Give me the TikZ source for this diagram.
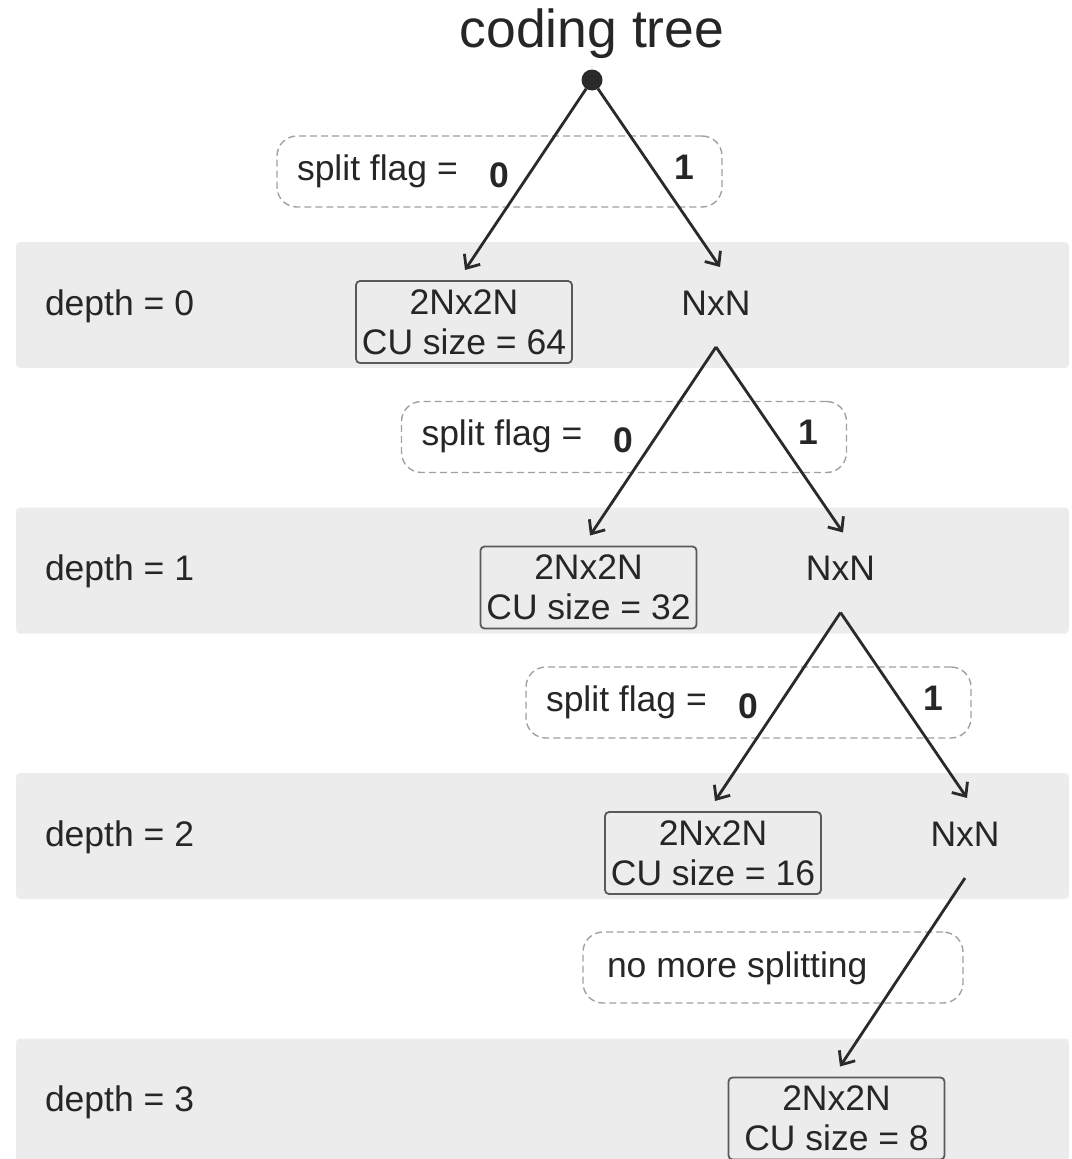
\documentclass[tikz,border=0pt]{standalone}
\usepackage{fontspec}
\setmainfont{Liberation Sans}
\usetikzlibrary{arrows.meta}
\definecolor{ink}{HTML}{262626}
\definecolor{edge}{HTML}{2A2A2A}
\definecolor{band}{HTML}{EBECEB}
\definecolor{boxline}{HTML}{595959}
\definecolor{dashline}{HTML}{A0A0A0}
\begin{document}
\begin{tikzpicture}[x=1pt,y=-1pt,
  every node/.style={text=ink, inner sep=0pt, outer sep=0pt},
  lbl/.style={font=\fontsize{35.5}{40}\selectfont},
  digit/.style={font=\fontsize{35.5}{40}\selectfont\bfseries},
  cubox/.style={lbl, draw=boxline, line width=1.8pt, rounded corners=4pt,
    minimum width=216pt, minimum height=82pt, align=center},
  flagbox/.style={draw=dashline, line width=1.4pt, dash pattern=on 7pt off 4pt,
    rounded corners=20pt, minimum height=71pt},
  arr/.style={draw=edge, line width=2.8pt,
    -{Straight Barb[length=11pt,width=19pt]}},
]
\useasboundingbox (0,0) rectangle (1071,1159);

% depth bands
\foreach \k in {0,1,2,3}{
  \fill[band, rounded corners=4pt] (16,{242+265.5*\k}) rectangle (1069,{368+265.5*\k});
}

% title and root
\node[font=\fontsize{53.5}{60}\selectfont, anchor=base] (title) at (592,47) {coding tree};
\node[circle, fill=edge, minimum size=21pt] (root) at (592,80) {};

% depth labels
\node[lbl, anchor=base west] (d0) at (45,315) {depth = 0};
\node[lbl, anchor=base west] (d1) at (45,580.5) {depth = 1};
\node[lbl, anchor=base west] (d2) at (45,846) {depth = 2};
\node[lbl, anchor=base west] (d3) at (45,1111.5) {depth = 3};

% split flag boxes
\node[flagbox, minimum width=445pt] (f0) at (499.5,171.5) {};
\node[lbl, anchor=base west] (s0) at (297,180) {split flag =};
\node[digit, anchor=base] (z0) at (499,187) {0};
\node[digit, anchor=base] (o0) at (684,179) {1};

\node[flagbox, minimum width=445pt] (f1) at (624,437) {};
\node[lbl, anchor=base west] (s1) at (421.5,445.5) {split flag =};
\node[digit, anchor=base] (z1) at (623.5,452.5) {0};
\node[digit, anchor=base] (o1) at (808.5,444.5) {1};

\node[flagbox, minimum width=445pt] (f2) at (748.5,702.5) {};
\node[lbl, anchor=base west] (s2) at (546,711) {split flag =};
\node[digit, anchor=base] (z2) at (748,718) {0};
\node[digit, anchor=base] (o2) at (933,710) {1};

\node[flagbox, minimum width=380pt] (f3) at (773,967.5) {};
\node[lbl, anchor=base west] (s3) at (607,977) {no more splitting};

% CU boxes
\node[cubox] (b0) at (464,322) {2Nx2N\\CU size = 64};
\node[cubox] (b1) at (588.5,587.5) {2Nx2N\\CU size = 32};
\node[cubox] (b2) at (713,853) {2Nx2N\\CU size = 16};
\node[cubox] (b3) at (836.5,1118.5) {2Nx2N\\CU size = 8};

% split nodes
\node[lbl, anchor=base] (n0) at (716,315) {NxN};
\node[lbl, anchor=base] (n1) at (840.5,580.5) {NxN};
\node[lbl, anchor=base] (n2) at (965,846) {NxN};

% branches
\draw[arr] (root) -- ([xshift=1pt,yshift=11pt]b0.north);
\draw[arr] (root) -- ([xshift=4pt,yshift=48pt]n0.base);
\draw[arr] ([yshift=-32pt]n0.base) -- ([xshift=1.5pt,yshift=11pt]b1.north);
\draw[arr] ([yshift=-32pt]n0.base) -- ([xshift=2.5pt,yshift=48pt]n1.base);
\draw[arr] ([yshift=-32pt]n1.base) -- ([xshift=2pt,yshift=11pt]b2.north);
\draw[arr] ([yshift=-32pt]n1.base) -- ([xshift=2pt,yshift=48pt]n2.base);
\draw[arr] ([yshift=-32pt]n2.base) -- ([xshift=3.5pt,yshift=11pt]b3.north);
\end{tikzpicture}
\end{document}
